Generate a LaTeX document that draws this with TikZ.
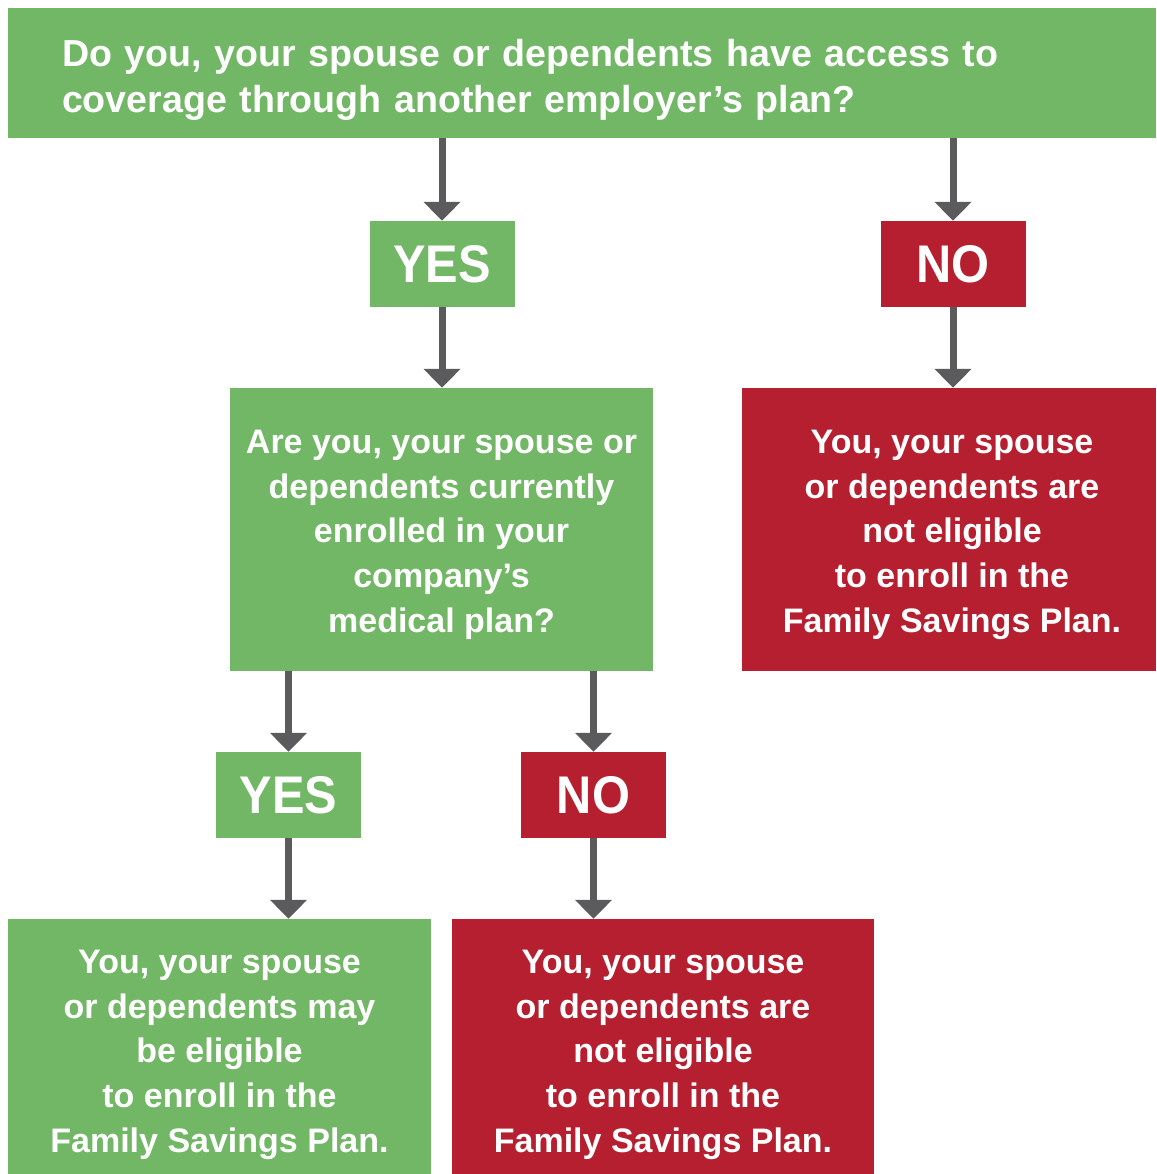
\documentclass[tikz,border=0pt]{standalone}
\usepackage{fontspec}
\setmainfont{Liberation Sans}
\newfontfamily\answerfont[FakeStretch=0.92]{Liberation Sans}
\usetikzlibrary{arrows.meta}
\definecolor{fgreen}{HTML}{72B766}
\definecolor{fred}{HTML}{B51F2F}
\definecolor{fgrey}{HTML}{5B5B5D}
\begin{document}
\begin{tikzpicture}[x=1pt,y=-1pt,
  box/.style={rectangle, inner sep=0pt, text=white, align=center},
  gbox/.style={box, fill=fgreen},
  rbox/.style={box, fill=fred},
  body/.style={font=\bfseries\fontsize{34}{44.7}\selectfont},
  answer/.style={font=\answerfont\bfseries\fontsize{53}{53}\selectfont, minimum width=145pt, minimum height=86pt},
  arr/.style={draw=fgrey, line width=7pt, -{Triangle[width=36pt,length=19pt]}}
]
\useasboundingbox (0,0) rectangle (1156,1174);

% top question
\node[gbox, minimum width=1148pt, minimum height=130pt, text width=1040pt, align=left,
      font=\bfseries\fontsize{37.6}{46}\selectfont] (q1) at (582,73)
  {\rule{0pt}{40pt}Do you, your spouse or dependents have access to\\coverage through another employer’s plan?};

% first answers
\node[gbox, answer] (yes1) at (442,264) {YES};
\node[rbox, answer] (no1) at (953,264) {NO};

% second question and first NO outcome
\node[gbox, body, minimum width=423pt, minimum height=283pt] (q2) at (441.5,529.5)
  {\rule{0pt}{34pt}Are you, your spouse or\\dependents currently\\enrolled in your\\company’s\\medical plan?};
\node[rbox, body, minimum width=414pt, minimum height=283pt] (r1) at (949,529.5)
  {\rule{0pt}{34pt}\hspace{6pt}You, your spouse\\\hspace{6pt}or dependents are\\\hspace{6pt}not eligible\\\hspace{6pt}to enroll in the\\\hspace{6pt}Family Savings Plan.};

% second answers
\node[gbox, answer] (yes2) at (288.5,795) {YES};
\node[rbox, answer] (no2) at (593.5,795) {NO};

% bottom outcomes
\node[gbox, body, minimum width=423pt, minimum height=255pt] (g3) at (219.5,1046.5)
  {\rule{0pt}{40pt}You, your spouse\\or dependents may\\be eligible\\to enroll in the\\Family Savings Plan.};
\node[rbox, body, minimum width=422pt, minimum height=255pt] (r3) at (663,1046.5)
  {\rule{0pt}{40pt}You, your spouse\\or dependents are\\not eligible\\to enroll in the\\Family Savings Plan.};

% connectors
\draw[arr] (q1.south -| yes1.north) -- (yes1.north);
\draw[arr] (q1.south -| no1.north) -- (no1.north);
\draw[arr] (yes1.south) -- (yes1.south |- q2.north);
\draw[arr] (no1.south) -- (no1.south |- r1.north);
\draw[arr] (q2.south -| yes2.north) -- (yes2.north);
\draw[arr] (q2.south -| no2.north) -- (no2.north);
\draw[arr] (yes2.south) -- (yes2.south |- g3.north);
\draw[arr] (no2.south) -- (no2.south |- r3.north);
\end{tikzpicture}
\end{document}
